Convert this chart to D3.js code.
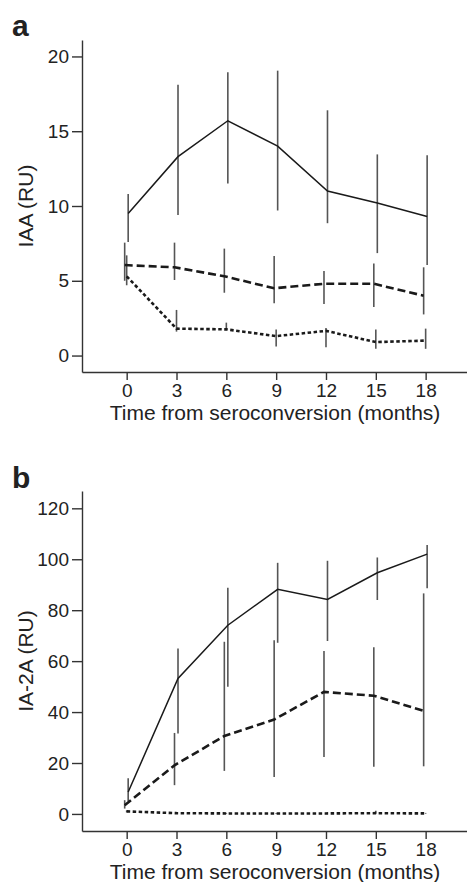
<!DOCTYPE html>
<html>
<head>
<meta charset="utf-8">
<script src="https://cdn.jsdelivr.net/npm/d3@7/dist/d3.min.js"></script>
<style>
  body { margin: 0; background: #fff; }
  text { font-family: "Liberation Sans", Arial, Helvetica, sans-serif; fill: #222; }
  .axis path, .axis line { stroke: #333; stroke-width: 1.4; }
  .axis text { font-size: 19px; fill: #222; }
</style>
</head>
<body>
<svg id="chart" width="467" height="882"></svg>
<script>
// months after seroconversion
var months = [0, 3, 6, 9, 12, 15, 18];

// panel a : IAA (RU)
var iaaTicks = [0, 5, 10, 15, 20];
var iaaSolid      = [9.5, 13.3, 15.7, 14.0, 11.0, 10.2, 9.3];
var iaaSolidHi    = [10.8, 18.1, 18.95, 19.05, 16.4, 13.45, 13.4];
var iaaSolidLo    = [7.6, 9.4, 11.5, 9.7, 8.85, 6.85, 6.05];
var iaaDashed     = [6.05, 5.9, 5.3, 4.5, 4.8, 4.8, 4.0];
var iaaDashedHi   = [7.55, 7.55, 7.15, 6.65, 5.65, 6.15, 5.9];
var iaaDashedLo   = [5.0, 5.05, 4.2, 3.5, 3.45, 3.25, 2.75];
var iaaDotted     = [5.3, 1.8, 1.75, 1.3, 1.65, 0.9, 1.0];
var iaaDottedHi   = [6.7, 3.05, 2.2, 1.75, 1.85, 1.75, 1.8];
var iaaDottedLo   = [4.7, 1.6, 1.7, 0.6, 0.55, 0.45, 0.45];

// panel b : IA-2A (RU)
var ia2aTicks = [0, 20, 40, 60, 80, 100, 120];
var ia2aSolid     = [8.6, 53.2, 74.1, 88.2, 84.2, 94.7, 102];
var ia2aSolidHi   = [14, 65, 88.8, 98.6, 99.4, 100.7, 105.6];
var ia2aSolidLo   = [5, 31.6, 49.9, 67.2, 67.9, 84, 88.6];
var ia2aDashed    = [3.4, 19.1, 30.6, 37.1, 47.9, 46.4, 40.5];
var ia2aDashedHi  = [5.4, 31.8, 67.6, 68.2, 64, 65.4, 86.6];
var ia2aDashedLo  = [2.1, 11.3, 16.9, 14.5, 22.4, 18.5, 18.7];
var ia2aDotted    = [1.0, 0.3, 0.2, 0.2, 0.2, 0.3, 0.2];
var ia2aDottedHi  = [1.4, 0.5, 0.4, 0.4, 0.4, 1.3, 0.4];
var ia2aDottedLo  = [0.6, 0.1, 0.1, 0.1, 0.1, 0.1, 0.1];

var svg = d3.select("#chart");

function series(mean, hi, lo) {
  return months.map(function(m, i) { return {m: m, v: mean[i], hi: hi[i], lo: lo[i]}; });
}

function drawPanel(p) {
  var x = d3.scaleLinear().domain([-2.69, 20.49]).range([82, 467]);
  var y = d3.scaleLinear().domain(p.yDomain).range([p.bottom, p.top]);
  var g = svg.append("g");

  // panel letter
  g.append("text")
    .attr("x", 12).attr("y", p.letterY)
    .style("font-size", "30px").style("font-weight", "bold")
    .text(p.letter);

  // axes
  g.append("g")
    .attr("class", "axis")
    .attr("transform", "translate(0," + p.bottom + ")")
    .call(d3.axisBottom(x).tickValues(months).tickSizeInner(8).tickSizeOuter(0).tickPadding(4));

  g.append("g")
    .attr("class", "axis")
    .attr("transform", "translate(82,0)")
    .call(d3.axisLeft(y).tickValues(p.yTicks).tickSizeInner(10).tickSizeOuter(0).tickPadding(3));

  // axis titles
  g.append("text")
    .attr("x", 275).attr("y", p.bottom + 48)
    .attr("text-anchor", "middle")
    .style("font-size", "21px")
    .text("Time from seroconversion (months)");

  g.append("text")
    .attr("transform", "translate(33," + ((p.top + p.bottom) / 2) + ") rotate(-90)")
    .attr("text-anchor", "middle")
    .style("font-size", "21px")
    .text(p.yLabel);

  var line = d3.line();

  // error bars first, lines on top
  p.series.forEach(function(s) {
    g.selectAll(null)
      .data(s.data)
      .enter().append("line")
      .attr("x1", function(d) { return x(d.m) + s.dx; })
      .attr("x2", function(d) { return x(d.m) + s.dx; })
      .attr("y1", function(d) { return y(d.hi); })
      .attr("y2", function(d) { return y(d.lo); })
      .attr("stroke", "#555")
      .attr("stroke-width", 1.6);
  });

  p.series.forEach(function(s) {
    g.append("path")
      .attr("d", line(s.data.map(function(d) { return [x(d.m) + s.dx, y(d.v)]; })))
      .attr("fill", "none")
      .attr("stroke", "#1a1a1a")
      .attr("stroke-width", s.width)
      .attr("stroke-dasharray", s.dash);
  });
}

drawPanel({
  letter: "a", letterY: 36,
  top: 40, bottom: 372,
  yDomain: [-1.1, 21.1], yTicks: iaaTicks, yLabel: "IAA (RU)",
  series: [
    {data: series(iaaSolid, iaaSolidHi, iaaSolidLo), dx: 1.5, width: 1.5, dash: null},
    {data: series(iaaDashed, iaaDashedHi, iaaDashedLo), dx: -2, width: 2.6, dash: "8,4"},
    {data: series(iaaDotted, iaaDottedHi, iaaDottedLo), dx: 0, width: 2.6, dash: "3.5,2.5"}
  ]
});

drawPanel({
  letter: "b", letterY: 488,
  top: 491, bottom: 831,
  yDomain: [-6.7, 126.8], yTicks: ia2aTicks, yLabel: "IA-2A (RU)",
  series: [
    {data: series(ia2aSolid, ia2aSolidHi, ia2aSolidLo), dx: 1.5, width: 1.5, dash: null},
    {data: series(ia2aDashed, ia2aDashedHi, ia2aDashedLo), dx: -2, width: 2.6, dash: "8,4"},
    {data: series(ia2aDotted, ia2aDottedHi, ia2aDottedLo), dx: 0, width: 2.6, dash: "3.5,2.5"}
  ]
});
</script>
</body>
</html>
